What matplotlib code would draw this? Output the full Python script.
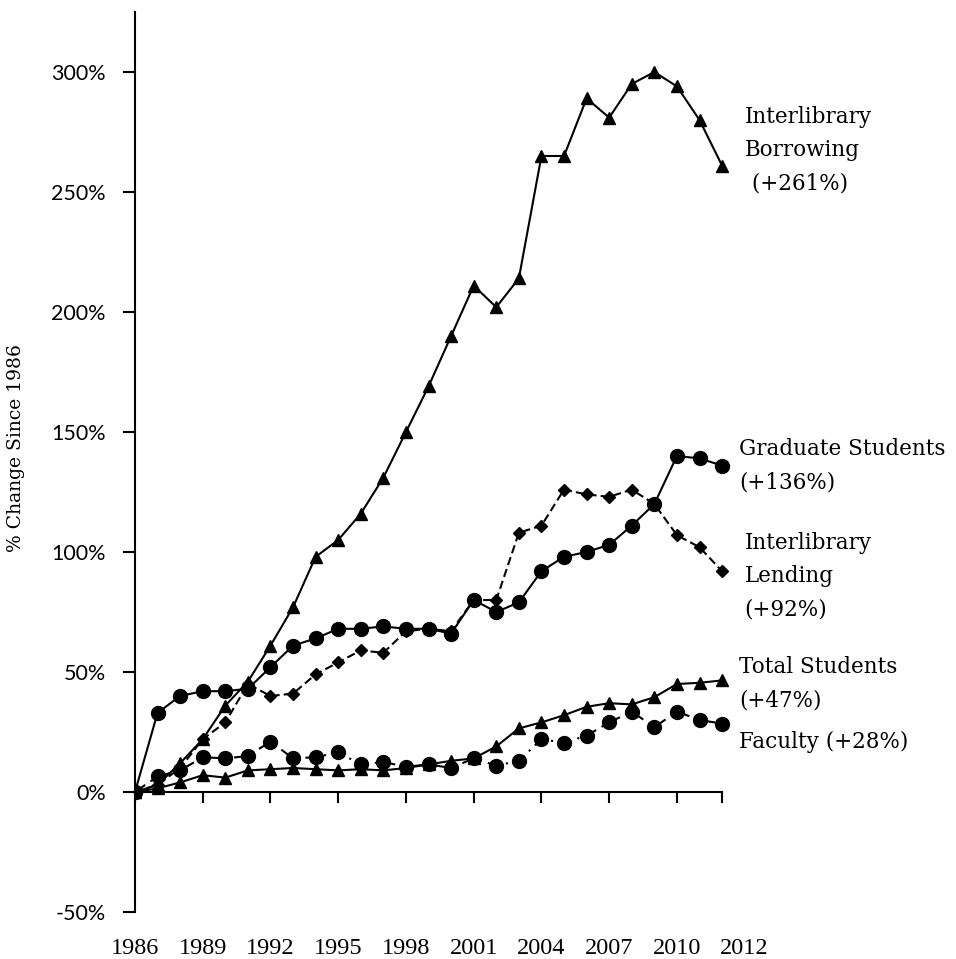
import numpy as np
import matplotlib
matplotlib.use("Agg")
import matplotlib.pyplot as plt
from matplotlib.transforms import ScaledTranslation

# data (% change since 1986)
years = list(range(1986, 2013))

borrowing = [0, 3, 12, 22, 36, 46, 61, 77, 98, 105, 116, 131, 150, 169, 190,
             211, 202, 214, 265, 265, 289, 281, 295, 300, 294, 280, 261]
graduate = [0, 33, 40, 42, 42, 43, 52, 61, 64, 68, 68, 69, 68, 68, 66,
            80, 75, 79, 92, 98, 100, 103, 111, 120, 140, 139, 136]
lending = [0, 3, 10, 22, 29, 45, 40, 41, 49, 54, 59, 58, 67, 68, 67,
           80, 80, 108, 111, 126, 124, 123, 126, 120, 107, 102, 92]
total_students = [0, 1.5, 4, 7, 6, 9, 9.5, 10, 9.5, 9, 9.5, 9, 10, 11.5, 13,
                  14, 19, 26.5, 29, 32, 35.5, 37, 36.5, 39.5, 45, 45.5, 46.5]
faculty = [0, 6.5, 9, 14.5, 14, 15, 21, 14, 14.5, 16.5, 11.5, 12.5, 10.5, 11.5, 10,
           14, 11, 13, 22, 20.5, 23.5, 29, 33.5, 27, 33.5, 30, 28.5]

xticks = [1986, 1989, 1992, 1995, 1998, 2001, 2004, 2007, 2010, 2012]
yticks = [-50, 0, 50, 100, 150, 200, 250, 300]

labels = ["Interlibrary\nBorrowing\n (+261%)", "Graduate Students\n(+136%)",
          "Interlibrary\nLending\n(+92%)", "Total Students\n(+47%)", "Faculty (+28%)"]
label_pos = [(2013.0, 267.5), (2012.75, 136), (2013.0, 90), (2012.75, 45), (2012.75, 21)]

fig = plt.figure(figsize=(9.56, 9.59), dpi=100)
ax = fig.add_axes([135/956, 47/959, 600/956, 900/959])

ax.plot(years, borrowing, color='black', lw=1.5, marker='^', ms=8.5, zorder=3)
ax.plot(years, graduate, color='black', lw=1.5, marker='o', ms=10, zorder=3)
ax.plot(years, lending, color='black', lw=1.5, ls=(0, (4, 2)), marker='D', ms=6.5, zorder=3)
ax.plot(years, total_students, color='black', lw=1.5, marker='^', ms=8.5, zorder=3)
ax.plot(years, faculty, color='black', lw=1.5, ls=(0, (6, 3, 1, 3)), marker='o', ms=10, zorder=3)

ax.set_xlim(1986, 1986 + 600/22.58)
ax.set_ylim(-50, 325)

for s in ['top', 'right']:
    ax.spines[s].set_visible(False)
ax.spines['bottom'].set_position(('data', 0))
ax.spines['bottom'].set_bounds(1986, 2012)
ax.spines['left'].set_bounds(-50, 325)
ax.spines['left'].set_linewidth(1.5)
ax.spines['bottom'].set_linewidth(1.5)

ax.set_xticks(xticks)
ax.tick_params(axis='x', direction='out', length=8, width=1.5, labelbottom=False)
ax.set_yticks(yticks)
ax.set_yticklabels([f"{v}%" for v in yticks], family='Lato', fontsize=15.5)
ax.tick_params(axis='y', direction='out', length=9, width=1.5, pad=12)

# year labels sit at the bottom of the figure, 2012 nudged right like the original
sec = ax.secondary_xaxis(-0.02)
sec.set_xticks(xticks)
sec.set_xticklabels([str(y) for y in xticks], family='Liberation Serif', fontsize=17.5)
sec.tick_params(length=0, pad=6)
sec.spines['bottom'].set_visible(False)
last = sec.get_xticklabels()[-1]
last.set_transform(last.get_transform() + ScaledTranslation(0.22, 0, fig.dpi_scale_trans))

ax.set_ylabel("% Change Since 1986", family='DejaVu Serif', fontsize=13.5)
ax.yaxis.set_label_coords(-0.183, 0.515)

for txt, (x, y) in zip(labels, label_pos):
    ax.text(x, y, txt, family='DejaVu Serif', fontsize=15.5, va='center', ha='left',
            linespacing=1.65, clip_on=False)

fig.savefig("out.png", dpi=100)
